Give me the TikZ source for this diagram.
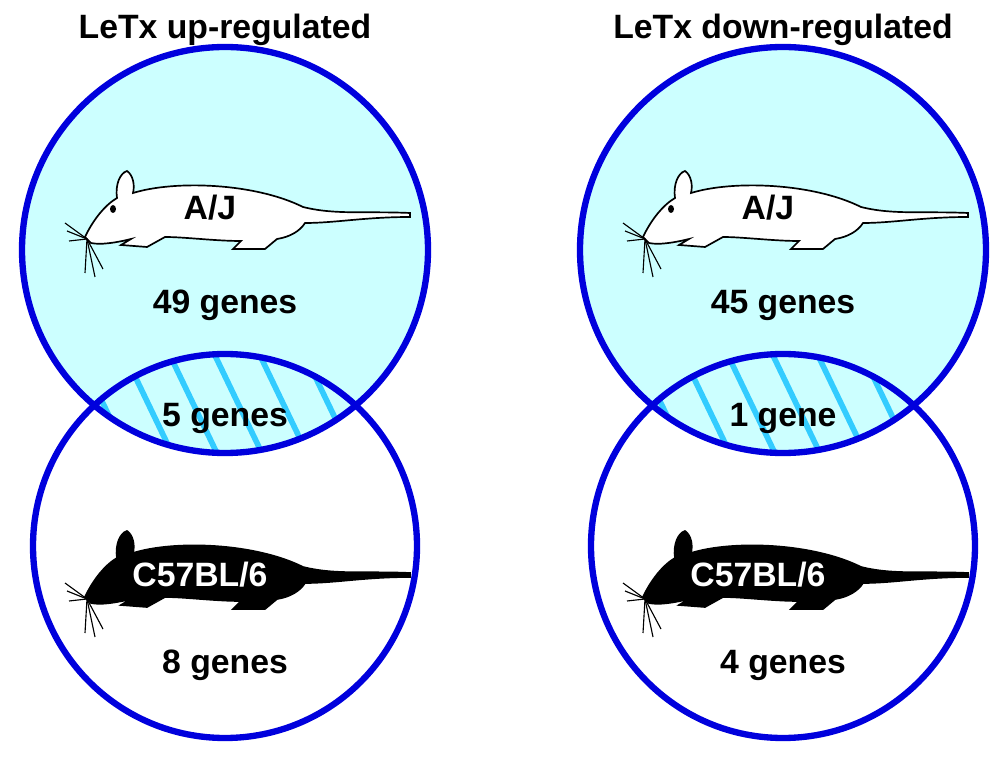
\documentclass[tikz,border=0pt]{standalone}
\usepackage{fontspec}
\setmainfont{Liberation Sans}
\usetikzlibrary{positioning}
\definecolor{lcyan}{HTML}{CCFFFF}
\definecolor{hcyan}{HTML}{33CCFF}
\definecolor{rim}{HTML}{0000DD}
\tikzset{
  ring/.style={draw=rim, line width=4.5pt},
  lbl/.style={font=\bfseries\fontsize{24}{28}\selectfont},
  mouse/.pic={
    \draw[line width=1.2pt, fill=#1]
      (20,72) .. controls (28,55) and (40,40) .. (52,33)
      .. controls (50,20) and (55,8) .. (62,6)
      .. controls (68,10) and (70,20) .. (68,28)
      .. controls (110,15) and (190,18) .. (238,42)
      .. controls (270,50) and (300,46) .. (345,48)
      -- (345,52) .. controls (300,52) and (270,58) .. (240,58)
      .. controls (235,66) and (225,72) .. (212,74)
      -- (200,84) -- (168,84) -- (176,76)
      .. controls (150,76) and (120,72) .. (100,72)
      -- (82,82) -- (56,80) -- (66,74)
      .. controls (50,78) and (35,80) .. (26,78) -- cycle;
    \fill[black] (48,44) ellipse (3 and 4);
    \foreach \ex/\ey in {0/58,2/66,4/76,20/108,30/112,38/104}
      \draw[line width=0.8pt] (22,74) -- (\ex,\ey);
  }
}
\begin{document}
\begin{tikzpicture}[x=0.025cm,y=-0.025cm]
\useasboundingbox (0,0) rectangle (1000,766);
\foreach \cx/\ttl/\na/\nb/\nc/\nm in {225/LeTx up-regulated/49 genes/5 genes/8 genes/L,
                                      783/LeTx down-regulated/45 genes/1 gene/4 genes/R} {
  % fills
  \fill[lcyan] (\cx,250) circle (203);
  \begin{scope}
    \clip (\cx,250) circle (203);
    \clip (\cx,546) circle (192);
    \foreach \s in {-165,-120,...,165}
      \draw[hcyan, line width=4pt] (\cx+\s-30,345) -- (\cx+\s+30,470);
  \end{scope}
  \draw[ring] (\cx,250) circle (203);
  \draw[ring] (\cx,546) circle (192);
  % mice
  \pic at (\cx-160,165) {mouse=white};
  \pic at (\cx-160,525) {mouse=black};
  % texts
  \node[lbl] (title\nm) at (\cx,30) {\ttl};
  \node[lbl] (aj\nm) at (\cx-15,208) {A/J};
  \node[lbl] (na\nm) at (\cx,305) {\na};
  \node[lbl] (nb\nm) at (\cx,418) {\nb};
  \node[lbl, text=white] (bl\nm) at (\cx-25,575) {C57BL/6};
  \node[lbl] (nc\nm) at (\cx,665) {\nc};
}
\end{tikzpicture}
\end{document}
